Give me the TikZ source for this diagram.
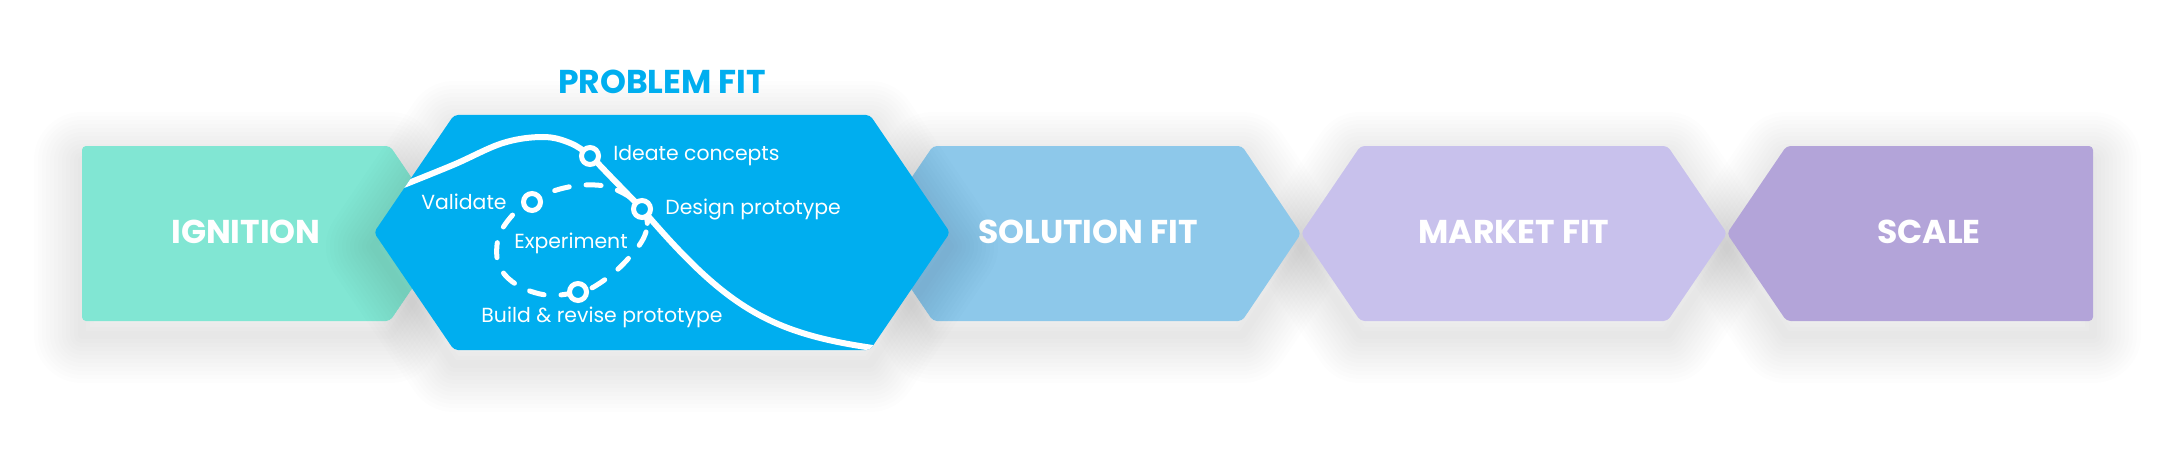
\documentclass[tikz,border=0pt]{standalone}
\usepackage{fontspec}
\setmainfont{Poppins}
\usetikzlibrary{positioning}

\definecolor{ignitionMint}{HTML}{81E6D3}
\definecolor{problemBlue}{HTML}{00AEEF}
\definecolor{solutionBlue}{HTML}{8DC8EA}
\definecolor{marketLilac}{HTML}{C8C1EC}
\definecolor{scalePurple}{HTML}{B3A4D9}

% stage outlines, in pixels of the 2178x460 frame
\newcommand{\ignitionpath}{(82,146) -- (390,146) -- (449.5,233.5) -- (390,321) -- (82,321) -- cycle}
\newcommand{\solutionpath}{(873.5,233.5) -- (933,146) -- (1242,146) -- (1301,233.5) -- (1242,321) -- (933,321) -- cycle}
\newcommand{\marketpath}{(1301,233.5) -- (1360.5,146) -- (1667.5,146) -- (1727,233.5) -- (1667.5,321) -- (1360.5,321) -- cycle}
\newcommand{\scalepath}{(1727,233.5) -- (1786.5,146) -- (2093,146) -- (2093,321) -- (1786.5,321) -- cycle}
\newcommand{\problempath}{(374,232.5) -- (454,115) -- (870,115) -- (950,232.5) -- (870,350) -- (454,350) -- cycle}

% soft shadow: stacked faint outlines
\newcommand{\stageshadow}[1]{%
  \foreach \w in {4,8,...,48} {\draw[black, opacity=0.007, line width=\w pt, line join=round, yshift=-7pt] #1;}}

\begin{document}
\begin{tikzpicture}[
  x=0.5pt, y=-0.5pt,
  stage/.style={rounded corners=2pt},
  stagetitle/.style={text=white, font=\fontsize{16.5}{18}\selectfont\bfseries, inner sep=0pt},
  sublabel/.style={text=white, font=\fontsize{10.2}{12}\selectfont, inner sep=0pt},
  dot/.style={circle, draw=white, fill=problemBlue, line width=2.5pt, inner sep=0pt, minimum size=8.5pt},
  track/.style={white, line width=3pt, line cap=round},
  loop/.style={white, line width=2.5pt, line cap=round, dash pattern=on 7.5pt off 8.5pt}
]
  \useasboundingbox (0,0) rectangle (2178,460);

  % shadows first, then the stages
  \stageshadow{\ignitionpath}
  \stageshadow{\solutionpath}
  \stageshadow{\marketpath}
  \stageshadow{\scalepath}
  \fill[ignitionMint, stage] \ignitionpath;
  \fill[solutionBlue, stage] \solutionpath;
  \fill[marketLilac, stage] \marketpath;
  \fill[scalePurple, stage] \scalepath;
  \stageshadow{\problempath}
  \fill[problemBlue, stage] \problempath;

  \node[stagetitle] (ignition) at (246,232) {IGNITION};
  \node[stagetitle] (solution) at (1088,232) {SOLUTION FIT};
  \node[stagetitle] (market) at (1514,232) {MARKET FIT};
  \node[stagetitle] (scale) at (1929,232) {SCALE};
  \node[stagetitle, text=problemBlue] (problem) at (662,82) {PROBLEM FIT};

  % path through the problem fit stage
  \coordinate (ideate) at (590,156);
  \coordinate (design) at (642,209);
  \coordinate (validate) at (532,202);
  \coordinate (build) at (578,292);

  \begin{scope}
    \clip[stage] \problempath;
    \draw[track] plot[smooth, tension=0.6] coordinates {(396,188) (453,165) (503,143) (543,137) (570,143) (ideate) (611,177) (design)}
      .. controls (727,308.5) and (770,334) .. (880,349);
  \end{scope}
  \draw[loop] plot[smooth cycle, tension=0.7] coordinates {(design) (646,232) (627,260) (600,283) (build) (540,294) (505,275) (497,245) (510,218) (validate) (560,189) (595,185) (621,192)};

  \node[dot] (ideateDot) at (ideate) {};
  \node[dot] (designDot) at (design) {};
  \node[dot] (validateDot) at (validate) {};
  \node[dot] (buildDot) at (build) {};

  \node[sublabel, right=6pt of ideateDot] (ideateText) {Ideate concepts};
  \node[sublabel, right=6pt of designDot] (designText) {Design prototype};
  \node[sublabel, left=7pt of validateDot] (validateText) {Validate};
  \node[sublabel] (experimentText) at (571,243) {Experiment};
  \node[sublabel] (buildText) at (602,317) {Build \& revise prototype};
\end{tikzpicture}
\end{document}
